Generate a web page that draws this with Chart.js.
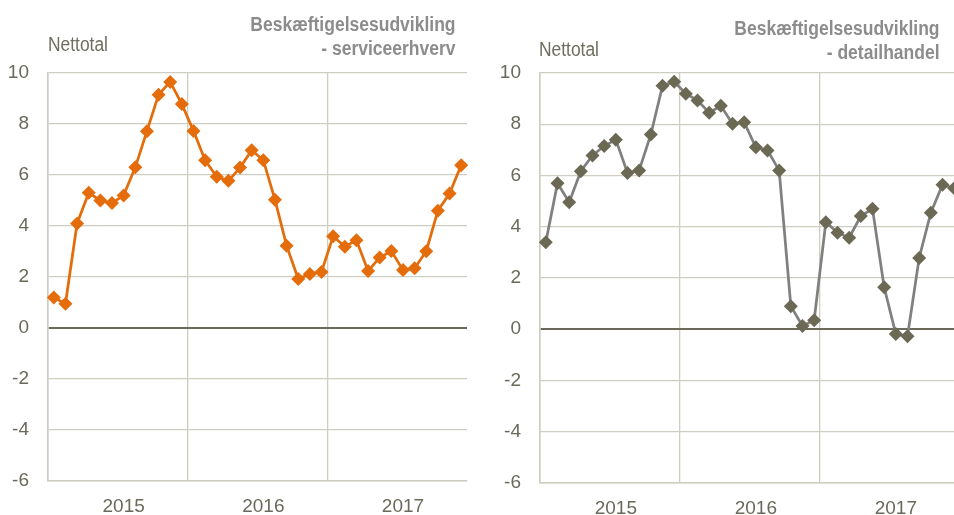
<!DOCTYPE html>
<html>
<head>
<meta charset="utf-8">
<script src="https://cdn.jsdelivr.net/npm/chart.js@4"></script>
<style>
    html, body { margin: 0; padding: 0; background: #fff; overflow: hidden; width: 954px; height: 515px; }
    .wrap { position: relative; width: 954px; height: 515px; overflow: hidden; }
    canvas { position: absolute; top: 0; }
    .title { position: absolute; font-family: "Liberation Sans", Arial, sans-serif; font-weight: bold; font-size: 20px; line-height: 24px; color: #8c8c8c; text-align: right; transform: scaleX(0.875); transform-origin: right top; white-space: nowrap; }
    .unit { position: absolute; font-family: "Liberation Sans", Arial, sans-serif; font-size: 20px; line-height: 24px; color: #6f6d5f; transform: scaleX(0.87); transform-origin: left top; white-space: nowrap; }
</style>
</head>
<body>
<div class="wrap">
    <canvas id="serviceChart" width="477" height="515" style="left:0px"></canvas>
    <canvas id="detailChart" width="478" height="515" style="left:492px"></canvas>
    <div class="unit" style="left:48px; top:32px;">Nettotal</div>
    <div class="title" style="right:498px; top:12px;">Beskæftigelsesudvikling<br>- serviceerhverv</div>
    <div class="unit" style="left:539px; top:37px;">Nettotal</div>
    <div class="title" style="right:14px; top:16px;">Beskæftigelsesudvikling<br>- detailhandel</div>
</div>
<script>
    const years = ['2015', '2016', '2017'];
    const monthNames = ['jan', 'feb', 'mar', 'apr', 'maj', 'jun', 'jul', 'aug', 'sep', 'okt', 'nov', 'dec'];

    // monthly categories, jan 2015 - dec 2017
    const months = [];
    years.forEach(y => monthNames.forEach(m => months.push(m + ' ' + y)));

    const serviceValues = [1.2, 0.95, 4.1, 5.3, 5.0, 4.9, 5.2, 6.3, 7.72, 9.15, 9.65, 8.78,
        7.73, 6.58, 5.93, 5.77, 6.29, 6.97, 6.58, 5.03, 3.23, 1.92, 2.12, 2.2,
        3.6, 3.19, 3.44, 2.24, 2.76, 3.02, 2.27, 2.34, 3.01, 4.6, 5.27, 6.38];

    const detailValues = [3.4, 5.7, 4.96, 6.17, 6.78, 7.15, 7.4, 6.1, 6.2, 7.6, 9.5, 9.66,
        9.19, 8.93, 8.45, 8.72, 8.02, 8.08, 7.1, 6.98, 6.2, 0.9, 0.13, 0.35,
        4.18, 3.77, 3.57, 4.42, 4.7, 1.64, -0.19, -0.27, 2.78, 4.55, 5.64, 5.5];

    const yMin = -6;
    const yMax = 10;
    const yStep = 2;

    const gridColor = '#cfcdc2';
    const zeroColor = '#6b6a5a';
    const tickColor = '#6b695b';
    const tickFont = { family: '"Liberation Sans", Arial, sans-serif', size: 19 };

    function makeChart(canvasId, values, lineColor, markerColor, axisHeight) {
        const ctx = document.getElementById(canvasId).getContext('2d');
        return new Chart(ctx, {
            type: 'line',
            data: {
                labels: months,
                datasets: [{
                    data: values,
                    borderColor: lineColor,
                    borderWidth: 2.75,
                    pointStyle: 'rectRot',
                    pointRadius: 7,
                    pointBackgroundColor: markerColor,
                    pointBorderColor: markerColor,
                    pointBorderWidth: 0,
                    tension: 0,
                    clip: false
                }]
            },
            options: {
                responsive: false,
                animation: false,
                layout: { padding: { top: 73, right: 10, bottom: 0, left: 0 } },
                plugins: {
                    legend: { display: false },
                    tooltip: { enabled: false }
                },
                scales: {
                    x: {
                        type: 'category',
                        offset: true,
                        grid: {
                            offset: true,
                            drawTicks: false,
                            color: c => (c.index % 12 === 0 ? gridColor : 'rgba(0,0,0,0)'),
                            lineWidth: 1.3
                        },
                        border: { color: gridColor, width: 1.6 },
                        ticks: {
                            autoSkip: false,
                            maxRotation: 0,
                            padding: 14,
                            color: tickColor,
                            font: tickFont,
                            callback: function (v, i) {
                                return i % 12 === 6 ? months[i].slice(-4) : '';
                            }
                        },
                        afterFit: s => { s.height = axisHeight; }
                    },
                    y: {
                        min: yMin,
                        max: yMax,
                        grid: {
                            drawTicks: false,
                            color: c => (c.tick && c.tick.value === 0 ? zeroColor : gridColor),
                            lineWidth: c => (c.tick && c.tick.value === 0 ? 2 : 1.3)
                        },
                        border: { color: gridColor, width: 1.6 },
                        ticks: {
                            stepSize: yStep,
                            padding: 19,
                            color: tickColor,
                            font: tickFont
                        },
                        afterFit: s => { s.width = 48; }
                    }
                }
            }
        });
    }

    makeChart('serviceChart', serviceValues, '#e46c0a', '#e46c0a', 34);
    makeChart('detailChart', detailValues, '#808080', '#6b6953', 32);
</script>
</body>
</html>
